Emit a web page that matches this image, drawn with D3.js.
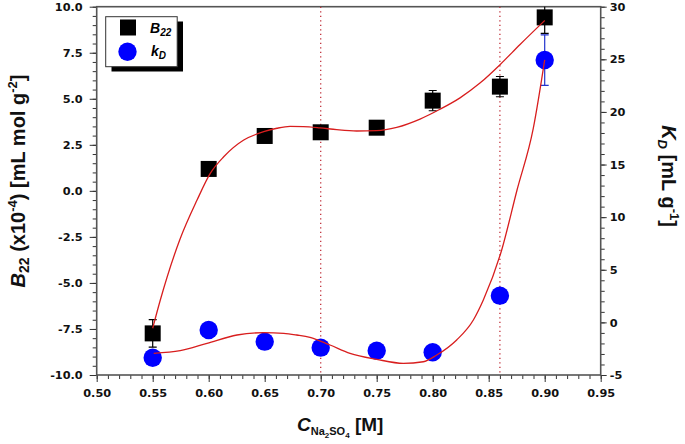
<!DOCTYPE html>
<html><head><meta charset="utf-8">
<script src="https://cdn.jsdelivr.net/npm/d3@7"></script>
<style>
body{margin:0;background:#fff;}
svg{display:block;}
</style></head>
<body>
<script>
// ---- data ----
const conc = [0.55, 0.60, 0.65, 0.70, 0.75, 0.80, 0.86, 0.90];
const b22 = [-7.74, 1.19, 2.98, 3.18, 3.43, 4.90, 5.66, 9.42];
const b22Err = [0.75, 0, 0, 0, 0, 0.55, 0.55, 0.87];
const kD = [-3.36, -0.72, -1.83, -2.40, -2.69, -2.84, 2.54, 24.93];
const kDErr = [0, 0, 0, 0, 0, 0, 0, 2.4];
// fitted curves
const b22FitX = [0.55, 0.5568, 0.5741, 0.5896, 0.6014, 0.6134, 0.6313, 0.6491, 0.661, 0.6726, 0.6845, 0.6994, 0.7143, 0.7321, 0.75, 0.7679, 0.7887, 0.8065, 0.8244, 0.8422, 0.8601, 0.878, 0.90];
const b22FitY = [-7.46, -5.93, -2.67, -0.50, 0.95, 1.85, 2.76, 3.21, 3.40, 3.50, 3.49, 3.42, 3.32, 3.25, 3.27, 3.45, 3.90, 4.43, 5.05, 5.85, 6.85, 7.95, 9.25];
const kDFitX = [0.5509, 0.5746, 0.5985, 0.6253, 0.6491, 0.667, 0.6788, 0.6904, 0.7083, 0.7262, 0.75, 0.7738, 0.7916, 0.8036, 0.8214, 0.8363, 0.8452, 0.8616, 0.8753, 0.8898, 0.90];
const kDFitY = [-2.94, -2.69, -1.99, -1.20, -0.98, -1.04, -1.20, -1.42, -2.15, -2.94, -3.51, -3.89, -3.74, -3.10, -1.67, 0.23, 2.13, 6.88, 12.58, 18.44, 24.95];
const refLines = [0.70, 0.86];
const xTicks = [0.50, 0.55, 0.60, 0.65, 0.70, 0.75, 0.80, 0.85, 0.90, 0.95];
const yLTicks = [-10, -7.5, -5, -2.5, 0, 2.5, 5, 7.5, 10];
const yRTicks = [-5, 0, 5, 10, 15, 20, 25, 30];

const W = 685, H = 444;
const L = 96.7, R = 600.7, T = 6.7, B = 375;
const svg = d3.select("body").append("svg").attr("width", W).attr("height", H);

const x = d3.scaleLinear().domain([0.5, 0.95]).range([L, R]);
const yL = d3.scaleLinear().domain([-10, 10]).range([B, T]);
const yR = d3.scaleLinear().domain([-5, 30]).range([B, T]);

const tickFont = "'DejaVu Sans', sans-serif";
const axisColor = "#333";

function styleAxis(g, fs) {
  g.select(".domain").remove();
  g.selectAll(".tick line").attr("stroke", axisColor).attr("stroke-width", 1);
  g.selectAll(".tick text").attr("font-family", tickFont).attr("font-weight", "bold")
    .attr("font-size", fs).attr("fill", "#111");
}
const range = (a, b, s) => d3.range(Math.round((b - a) / s) + 1).map(i => +(a + i * s).toFixed(4));

// minor ticks
svg.append("g").attr("transform", `translate(0,${B})`)
  .call(d3.axisBottom(x).tickValues(range(0.5, 0.95, 0.01)).tickSize(4).tickFormat(""))
  .call(g => styleAxis(g, 11));
svg.append("g").attr("transform", `translate(${L},0)`)
  .call(d3.axisLeft(yL).tickValues(range(-10, 10, 0.5)).tickSize(4).tickFormat(""))
  .call(g => styleAxis(g, 11));
svg.append("g").attr("transform", `translate(${R},0)`)
  .call(d3.axisRight(yR).tickValues(range(-5, 30, 1)).tickSize(4).tickFormat(""))
  .call(g => styleAxis(g, 11));
// major ticks
svg.append("g").attr("transform", `translate(0,${B})`)
  .call(d3.axisBottom(x).tickValues(xTicks).tickSize(7).tickPadding(7).tickFormat(d => d.toFixed(2)))
  .call(g => styleAxis(g, 11.3));
svg.append("g").attr("transform", `translate(${L},0)`)
  .call(d3.axisLeft(yL).tickValues(yLTicks).tickSize(7).tickPadding(7).tickFormat(d => d.toFixed(1)))
  .call(g => styleAxis(g, 11.3));
svg.append("g").attr("transform", `translate(${R},0)`)
  .call(d3.axisRight(yR).tickValues(yRTicks).tickSize(6).tickPadding(3).tickFormat(d => String(d)))
  .call(g => styleAxis(g, 11.3));

// frame
svg.append("rect").attr("x", L).attr("y", T).attr("width", R - L).attr("height", B - T)
  .attr("fill", "none").attr("stroke", "#555").attr("stroke-width", 1.6);

// clip
svg.append("clipPath").attr("id", "clip").append("rect")
  .attr("x", L).attr("y", T).attr("width", R - L).attr("height", B - T);
const plot = svg.append("g").attr("clip-path", "url(#clip)");

// reference dotted lines
plot.selectAll(".ref").data(refLines).enter().append("line")
  .attr("x1", d => x(d)).attr("x2", d => x(d)).attr("y1", T).attr("y2", B)
  .attr("stroke", "#c0303a").attr("stroke-width", 1.3).attr("stroke-dasharray", "1.3,3.2");

// error bars
const pts = conc.map((c, i) => ({c, b: b22[i], be: b22Err[i], k: kD[i], ke: kDErr[i]}));
function errBars(yScale, vKey, eKey, color) {
  const d = pts.filter(p => p[eKey] > 0);
  const g = plot.append("g").attr("stroke", color).attr("stroke-width", 1.2);
  g.selectAll("line.v").data(d).enter().append("line")
    .attr("x1", p => x(p.c)).attr("x2", p => x(p.c))
    .attr("y1", p => yScale(p[vKey] - p[eKey])).attr("y2", p => yScale(p[vKey] + p[eKey]));
  [1, -1].forEach(s => {
    g.selectAll("line.c" + s).data(d).enter().append("line")
      .attr("x1", p => x(p.c) - 4).attr("x2", p => x(p.c) + 4)
      .attr("y1", p => yScale(p[vKey] + s * p[eKey])).attr("y2", p => yScale(p[vKey] + s * p[eKey]));
  });
}
errBars(yL, "b", "be", "#000");
errBars(yR, "k", "ke", "#2233cc");

// markers
plot.selectAll("rect.sq").data(pts).enter().append("rect")
  .attr("x", p => x(p.c) - 8).attr("y", p => yL(p.b) - 8).attr("width", 16).attr("height", 16)
  .attr("fill", "#000");
plot.selectAll("circle.kd").data(pts).enter().append("circle")
  .attr("cx", p => x(p.c)).attr("cy", p => yR(p.k)).attr("r", 9.2).attr("fill", "#0000ff");

// fit curves
const lineL = d3.line().x(d => x(d[0])).y(d => yL(d[1])).curve(d3.curveMonotoneX);
const lineR = d3.line().x(d => x(d[0])).y(d => yR(d[1])).curve(d3.curveMonotoneX);
plot.append("path").datum(d3.zip(b22FitX, b22FitY)).attr("d", lineL)
  .attr("fill", "none").attr("stroke", "#d81e1e").attr("stroke-width", 1.3);
plot.append("path").datum(d3.zip(kDFitX, kDFitY)).attr("d", lineR)
  .attr("fill", "none").attr("stroke", "#d81e1e").attr("stroke-width", 1.3);

// legend
const lg = svg.append("g");
lg.append("rect").attr("x", 111.5).attr("y", 21.5).attr("width", 71.5).attr("height", 50).attr("fill", "#000");
lg.append("rect").attr("x", 105.7).attr("y", 16.7).attr("width", 71.5).attr("height", 50)
  .attr("fill", "#fff").attr("stroke", "#333").attr("stroke-width", 1);
lg.append("rect").attr("x", 120).attr("y", 19.5).attr("width", 16).attr("height", 16).attr("fill", "#000");
lg.append("circle").attr("cx", 127.5).attr("cy", 51.7).attr("r", 9.2).attr("fill", "#0000ff");
const lt1 = lg.append("text").attr("x", 150).attr("y", 32.5).attr("font-family", "'Liberation Sans', Arial, sans-serif")
  .attr("font-weight", "bold").attr("font-size", 14);
lt1.append("tspan").attr("font-style", "italic").text("B");
lt1.append("tspan").attr("font-size", 10).attr("dy", 3).attr("font-style", "italic").text("22");
const lt2 = lg.append("text").attr("x", 151).attr("y", 56).attr("font-family", "'Liberation Sans', Arial, sans-serif")
  .attr("font-weight", "bold").attr("font-size", 14);
lt2.append("tspan").attr("font-style", "italic").text("k");
lt2.append("tspan").attr("font-size", 10).attr("dy", 3).attr("font-style", "italic").text("D");

// axis titles
const tf = "'Liberation Sans', Arial, sans-serif";
const xt = svg.append("text").attr("x", 297).attr("y", 431).attr("font-family", tf)
  .attr("font-weight", "bold").attr("font-size", 19).attr("fill", "#111");
xt.append("tspan").attr("font-style", "italic").text("C");
xt.append("tspan").attr("font-size", 11).attr("dy", 4).text("Na");
xt.append("tspan").attr("font-size", 8).attr("dy", 3).text("2");
xt.append("tspan").attr("font-size", 11).attr("dy", -3).text("SO");
xt.append("tspan").attr("font-size", 8).attr("dy", 3).text("4");
xt.append("tspan").attr("dy", -7).text(" [M]");

const ylt = svg.append("text").attr("transform", "translate(25,181) rotate(-90)").attr("text-anchor", "middle")
  .attr("font-family", tf).attr("font-weight", "bold").attr("font-size", 20).attr("fill", "#111");
ylt.append("tspan").attr("font-style", "italic").text("B");
ylt.append("tspan").attr("font-size", 14).attr("dy", 4).text("22");
ylt.append("tspan").attr("dy", -4).text(" (x10");
ylt.append("tspan").attr("font-size", 13).attr("dy", -8).text("-4");
ylt.append("tspan").attr("dy", 8).text(")  [mL mol g");
ylt.append("tspan").attr("font-size", 13).attr("dy", -8).text("-2");
ylt.append("tspan").attr("dy", 8).text("]");

const yrt = svg.append("text").attr("transform", "translate(662,176) rotate(90)").attr("text-anchor", "middle")
  .attr("font-family", tf).attr("font-weight", "bold").attr("font-size", 20).attr("fill", "#111");
yrt.append("tspan").attr("font-style", "italic").text("K");
yrt.append("tspan").attr("font-size", 13).attr("dy", 4).attr("font-style", "italic").text("D");
yrt.append("tspan").attr("dy", -4).text(" [mL g");
yrt.append("tspan").attr("font-size", 13).attr("dy", -8).text("-1");
yrt.append("tspan").attr("dy", 8).text("]");
</script>
</body></html>
